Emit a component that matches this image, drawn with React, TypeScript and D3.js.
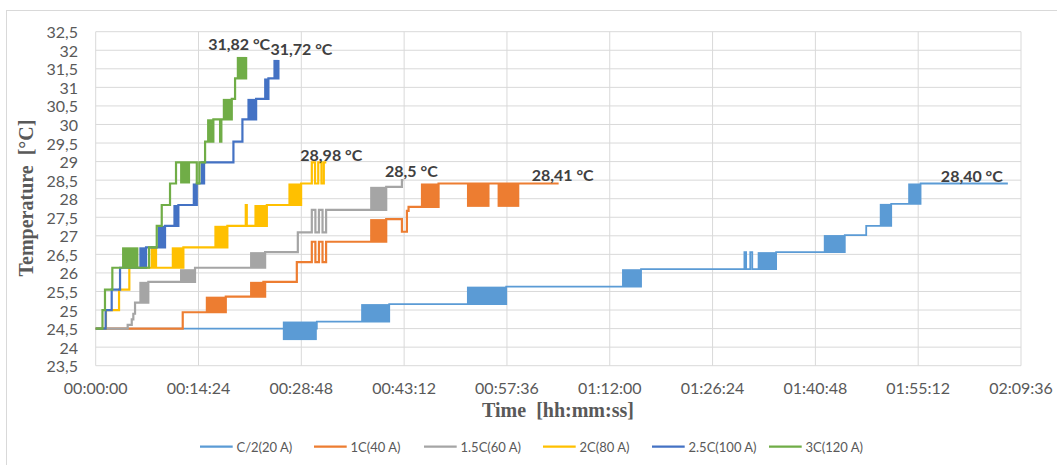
import React from "react";
import * as d3 from "d3";

// time in minutes from start, temperature in °C
const seriesNames = ["C/2(20 A)", "1C(40 A)", "1.5C(60 A)", "2C(80 A)", "2.5C(100 A)", "3C(120 A)"];
const seriesColors = ["#5B9BD5", "#ED7D31", "#A5A5A5", "#FFC000", "#4472C4", "#70AD47"];
const endLabels = ["28,40 °C", "28,41 °C", "28,5 °C", "28,98 °C", "31,72 °C", "31,82 °C"];

const stepsC2 = [
  [0, 24.5], [30.97, 24.69], [41.11, 25.16], [57.5, 25.63], [76.38, 26.1],
  [90.86, 26.56], [91.1, 26.1], [91.68, 26.56], [91.96, 26.1],
  [95.3, 26.56], [104.92, 27.02], [107.92, 27.27], [111.42, 27.86], [115.53, 28.41], [127.76, 28.41],
];
// dense flicker zones: [from, to, low, high]
const blocksC2 = [
  [26.21, 30.97, 24.19, 24.69], [37.18, 41.11, 24.69, 25.16], [52.0, 57.5, 25.16, 25.63],
  [73.72, 76.38, 25.63, 26.1], [92.72, 95.3, 26.1, 26.56], [101.98, 104.92, 26.56, 27.02],
  [109.82, 111.42, 27.27, 27.86], [113.8, 115.53, 27.86, 28.41],
];

const steps1C = [
  [0, 24.5], [12.19, 24.94], [18.22, 25.36], [23.49, 25.76], [23.62, 25.36], [23.73, 25.76],
  [28.17, 26.29], [30.27, 26.84], [30.77, 26.29], [31.27, 26.84], [31.77, 26.29], [32.27, 26.84],
  [40.69, 27.45], [42.89, 27.11], [43.59, 27.67], [43.82, 27.78], [48.02, 28.41], [64.84, 28.41],
];
const blocks1C = [
  [15.42, 18.22, 24.94, 25.36], [21.62, 23.49, 25.36, 25.76], [38.44, 40.69, 26.84, 27.45],
  [45.55, 48.02, 27.78, 28.41], [52.0, 55.16, 27.78, 28.41], [56.29, 59.33, 27.78, 28.41],
];

const steps15C = [
  [0, 24.5], [4.48, 24.6], [5.05, 24.75], [5.27, 24.9], [5.51, 25.2], [7.37, 25.76],
  [13.91, 26.14], [23.73, 26.56], [28.31, 27.09], [30.27, 27.7], [30.77, 27.09], [31.27, 27.7],
  [31.77, 27.09], [32.27, 27.7], [40.69, 28.32], [42.89, 28.5], [43.1, 28.5],
];
const blocks15C = [
  [6.11, 7.37, 25.2, 25.76], [11.81, 13.91, 25.76, 26.1], [21.62, 23.73, 26.14, 26.56],
  [38.44, 40.69, 27.7, 28.32],
];

const steps2C = [
  [0, 24.5], [1.44, 25.0], [3.27, 25.55], [4.71, 26.14], [7.85, 26.69], [8.1, 26.14],
  [8.3, 26.69], [8.45, 26.14], [12.28, 26.69], [18.44, 27.27], [21.02, 27.83], [21.16, 27.27],
  [23.97, 27.83], [28.77, 28.41], [30.27, 28.98], [30.72, 28.41], [31.17, 28.98], [31.62, 28.41],
  [31.95, 28.98], [32.3, 28.98],
];
const blocks2C = [
  [10.65, 12.28, 26.14, 26.69], [16.62, 18.44, 26.69, 27.27], [22.23, 23.97, 27.27, 27.83],
  [26.99, 28.77, 27.83, 28.41],
];

const steps25C = [
  [0, 24.5], [1.4, 25.0], [2.24, 25.55], [3.41, 26.14], [7.05, 26.69], [9.71, 27.27],
  [11.58, 27.83], [14.16, 28.41], [14.86, 28.98], [15.0, 28.41], [15.18, 28.98],
  [19.29, 29.54], [20.55, 30.14], [22.47, 30.69], [24.19, 31.24], [25.59, 31.74],
];
const blocks25C = [
  [6.11, 7.05, 26.14, 26.69], [8.69, 9.71, 26.69, 27.27], [10.88, 11.58, 27.27, 27.83],
  [13.59, 14.16, 27.83, 28.41], [21.25, 22.47, 30.14, 30.69], [23.59, 24.19, 30.69, 31.24],
  [24.89, 25.59, 31.24, 31.74],
];

const steps3C = [
  [0, 24.5], [0.95, 25.0], [1.3, 25.55], [2.33, 26.14], [7.47, 26.69], [8.55, 27.27],
  [9.25, 27.83], [10.41, 28.41], [11.25, 28.98], [14.16, 28.41], [14.52, 28.98],
  [15.32, 29.54], [16.48, 30.14], [17.42, 29.54], [17.6, 30.14], [19.06, 30.69],
  [19.52, 31.24], [21.07, 31.82],
];
const blocks3C = [
  [3.69, 5.98, 26.14, 26.69], [11.82, 13.22, 28.41, 28.98], [15.6, 16.48, 29.54, 30.14],
  [17.8, 19.06, 30.14, 30.69], [19.76, 21.07, 31.24, 31.82],
];

const allSteps = [stepsC2, steps1C, steps15C, steps2C, steps25C, steps3C];
const allBlocks = [blocksC2, blocks1C, blocks15C, blocks2C, blocks25C, blocks3C];

const xTicks = d3.range(10).map((i) => i * 14.4);
const yTicks = d3.range(19).map((i) => 23.5 + i * 0.5);

const W = 1057;
const H = 465;
const margin = { top: 31.7, right: 36, bottom: 99.3, left: 95.7 };
const font = "Lato, 'Open Sans', sans-serif";
const serif = "'Liberation Serif', 'Times New Roman', serif";

// where each end label sits relative to the last point
const labelOffsets = [[-36, -8], [4, -9], [8, -10], [5, -8], [23, -11], [-7, -13.5]];
const legendX = [200, 314, 424, 543, 652, 769];

const fmtTime = (m: number) => {
  const s = Math.round(m * 60);
  const p = (n: number) => String(n).padStart(2, "0");
  return `${p(Math.floor(s / 3600))}:${p(Math.floor((s % 3600) / 60))}:${p(s % 60)}`;
};

export default function App() {
  const x = d3.scaleLinear().domain([0, 129.6]).range([margin.left, W - margin.right]);
  const y = d3.scaleLinear().domain([23.5, 32.5]).range([H - margin.bottom, margin.top]);
  const line = d3
    .line<number[]>()
    .x((d) => x(d[0]))
    .y((d) => y(d[1]))
    .curve(d3.curveStepAfter);

  return (
    <div style={{ position: "absolute", left: 0, top: 0 }}>
      <svg width={W} height={H} style={{ display: "block", background: "#fff" }}>
        <rect x={6.5} y={10.5} width={1100} height={500} fill="none" stroke="#D9D9D9" />

        {yTicks.map((t) => (
          <g key={"y" + t}>
            <line x1={x(0)} x2={x(129.6)} y1={y(t)} y2={y(t)} stroke="#D9D9D9" />
            <text x={78} y={y(t)} textAnchor="end" dominantBaseline="central"
              fontFamily={font} fontSize={16} fill="#595959">
              {String(t).replace(".", ",")}
            </text>
          </g>
        ))}
        {xTicks.map((t) => (
          <g key={"x" + t}>
            <line x1={x(t)} x2={x(t)} y1={y(23.5)} y2={y(32.5)} stroke="#D9D9D9" />
            <text x={x(t)} y={387.5} textAnchor="middle" dominantBaseline="central"
              fontFamily={font} fontSize={16} fill="#595959">
              {fmtTime(t)}
            </text>
          </g>
        ))}

        {allSteps.map((steps, i) => (
          <g key={"s" + i}>
            <path d={line(steps) || ""} fill="none" stroke={seriesColors[i]}
              strokeWidth={i === 0 ? 1.8 : 2.2} />
            {allBlocks[i].map((b, j) => (
              <rect key={j} x={x(b[0])} width={x(b[1]) - x(b[0])} y={y(b[3])}
                height={y(b[2]) - y(b[3])} fill={seriesColors[i]} />
            ))}
          </g>
        ))}

        {allSteps.map((steps, i) => {
          const last = steps[steps.length - 1];
          return (
            <text key={"l" + i} x={x(last[0]) + labelOffsets[i][0]} y={y(last[1]) + labelOffsets[i][1]}
              textAnchor="middle" dominantBaseline="central" fontFamily={font}
              fontWeight="bold" fontSize={16} fill="#404040">
              {endLabels[i]}
            </text>
          );
        })}

        <text transform={`translate(33,198) rotate(-90)`} textAnchor="middle"
          fontFamily={serif} fontWeight="bold" fontSize={20} fill="#595959"
          style={{ whiteSpace: "pre" }}>
          {"Temperature  [°C]"}
        </text>
        <text x={558} y={417} textAnchor="middle" fontFamily={serif} fontWeight="bold"
          fontSize={20} fill="#595959" style={{ whiteSpace: "pre" }}>
          {"Time  [hh:mm:ss]"}
        </text>

        {seriesNames.map((name, i) => (
          <g key={"lg" + i} transform={`translate(${legendX[i]},446.7)`}>
            <line x1={0} x2={32.7} stroke={seriesColors[i]} strokeWidth={2.2} />
            <text x={36.5} dominantBaseline="central" fontFamily={font} fontSize={13} fill="#595959">
              {name}
            </text>
          </g>
        ))}
      </svg>
    </div>
  );
}
